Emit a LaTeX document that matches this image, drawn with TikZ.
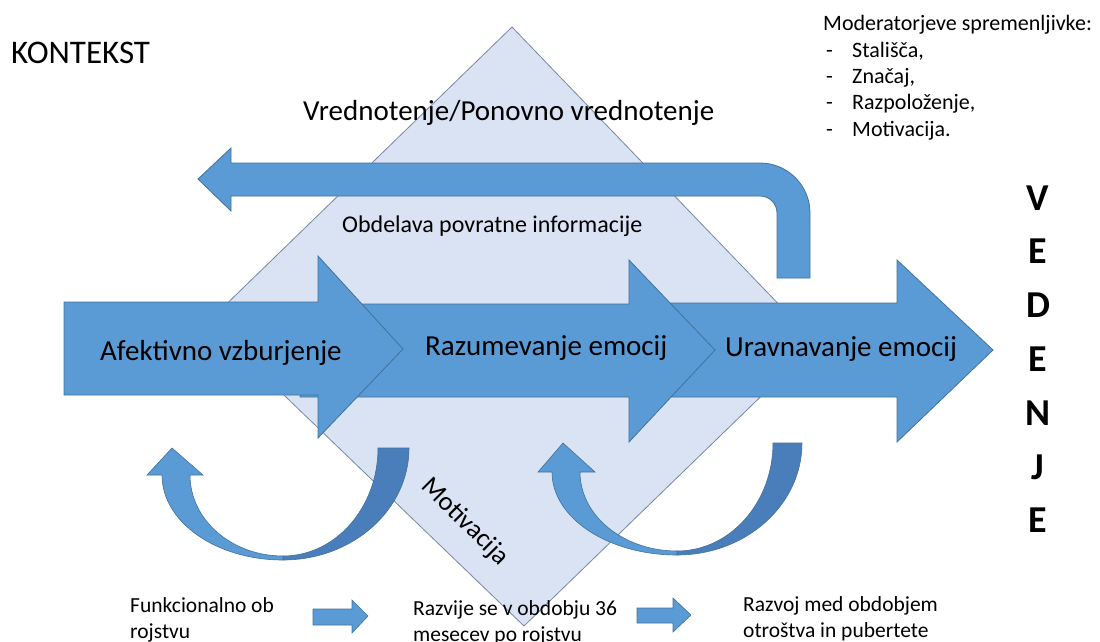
\documentclass[tikz,border=0pt]{standalone}
\usepackage{fontspec}
\setmainfont{Carlito}
\usepackage{tikz}

\definecolor{stepblue}{HTML}{5B9BD5}
\definecolor{stepline}{HTML}{41719C}
\definecolor{loopdark}{HTML}{4A7EBB}
\definecolor{diamondfill}{HTML}{DAE3F3}
\definecolor{diamondline}{HTML}{7886A0}

\tikzset{
	stepshape/.style={fill=stepblue, draw=stepline, line width=0.8pt, line join=miter},
	loopdarkshape/.style={fill=loopdark, draw=stepline, line width=0.6pt},
	diamondshape/.style={fill=diamondfill, draw=diamondline, line width=0.8pt},
	txt/.style={inner sep=0pt, text=black},
	bigtxt/.style={txt, font=\fontsize{29}{35}\selectfont},
	smalltxt/.style={txt, font=\fontsize{22}{26}\selectfont, align=left},
	bottomtxt/.style={smalltxt, anchor=base west, font=\fontsize{21.5}{26}\selectfont},
}

\begin{document}
\begin{tikzpicture}[x=1pt,y=-1pt]
	\useasboundingbox (0,0) rectangle (1100,641);

	% diamond in the back
	\draw[diamondshape] (512,27) -- (816,343) -- (524,626) -- (208,322) -- cycle;

	% the three steps, back to front
	\draw[stepshape] (640,303) -- (897,303) -- (897,260) -- (993,350) -- (897,442) -- (897,397) -- (640,397) -- cycle;
	\draw[stepshape] (300,304) -- (629,304) -- (629,260) -- (715,350) -- (629,442) -- (629,397) -- (300,397) -- cycle;
	\draw[stepshape] (64,302) -- (318,302) -- (318,256) -- (403,349) -- (318,438) -- (318,395) -- (64,395) -- cycle;

	% feedback arrow
	\draw[stepshape] (777,278) -- (777,213) arc[start angle=0, end angle=-90, radius=17]
		-- (231,196) -- (231,211) -- (198,179) -- (231,148) -- (231,163)
		-- (760,163) arc[start angle=-90, end angle=0, radius=50] -- (810,278) -- cycle;

	% curved arrows under the steps
	\draw[loopdarkshape] (409,448) arc[start angle=0, end angle=90, x radius=126, y radius=112]
		-- (283,556) arc[start angle=90, end angle=0, x radius=95, y radius=108] -- cycle;
	\draw[stepshape, line width=0.6pt] (172,448) -- (203,475) -- (190,475)
		arc[start angle=180, end angle=90, x radius=93, y radius=81]
		-- (283,560) arc[start angle=90, end angle=180, x radius=121, y radius=85]
		-- (147,475) -- cycle;

	\draw[loopdarkshape] (802,443) arc[start angle=0, end angle=90, x radius=125, y radius=112]
		-- (677,551) arc[start angle=90, end angle=0, x radius=96, y radius=108] -- cycle;
	\draw[stepshape, line width=0.6pt] (563,443) -- (595,472) -- (580,472)
		arc[start angle=180, end angle=90, x radius=97, y radius=79]
		-- (677,555) arc[start angle=90, end angle=180, x radius=125, y radius=83]
		-- (538,472) -- cycle;

	% small arrows at the bottom
	\draw[stepshape, line width=0.6pt] (313,609) -- (352,609) -- (352,600) -- (368,616) -- (352,633) -- (352,625) -- (313,625) -- cycle;
	\draw[stepshape, line width=0.6pt] (637,608) -- (673,608) -- (673,598) -- (691,615) -- (673,632) -- (673,623) -- (637,623) -- cycle;

	% labels
	\node[txt, anchor=base west, font=\fontsize{33}{40}\selectfont] (kontekst) at (11,63) {KONTEKST};
	\node[bigtxt, anchor=base west] (vred) at (303,120) {Vrednotenje/Ponovno vrednotenje};
	\node[txt, anchor=base west, font=\fontsize{24}{29}\selectfont] (obdel) at (342,232) {Obdelava povratne informacije};
	\node[bigtxt, anchor=base west] (afekt) at (100,360) {Afektivno vzburjenje};
	\node[bigtxt, anchor=base west] (razum) at (425,355) {Razumevanje emocij};
	\node[bigtxt, anchor=base west] (uravn) at (725,356) {Uravnavanje emocij};
	\node[txt, rotate=-45, font=\fontsize{26.5}{30}\selectfont] (motiv) at (465,522) {Motivacija};

	% moderators
	\node[smalltxt, anchor=base west] (moder) at (823,30) {Moderatorjeve spremenljivke:};
	\foreach \item [count=\i] in {{Stališča,}, {Značaj,}, {Razpoloženje,}, {Motivacija.}} {
		\node[smalltxt, anchor=base west] (dash\i) at (826,31+26.3*\i) {-};
		\node[smalltxt, anchor=base west] (item\i) at (852,31+26.3*\i) {\item};
	}

	% vedenje
	\foreach \l [count=\i] in {V,E,D,E,N,J,E}
		\node[txt, font=\fontsize{38}{40}\selectfont\bfseries] (ved\i) at (1038,210+53.8*\i-53.8) [anchor=base] {\l};

	% bottom row (anchor on the second line)
	\node[bottomtxt] (funk) at (130,638) {Funkcionalno ob\\rojstvu};
	\node[bottomtxt] (razv) at (413,641) {Razvije se v obdobju 36\\mesecev po rojstvu};
	\node[bottomtxt] (razvoj) at (743,637) {Razvoj med obdobjem\\otroštva in pubertete};
\end{tikzpicture}
\end{document}
